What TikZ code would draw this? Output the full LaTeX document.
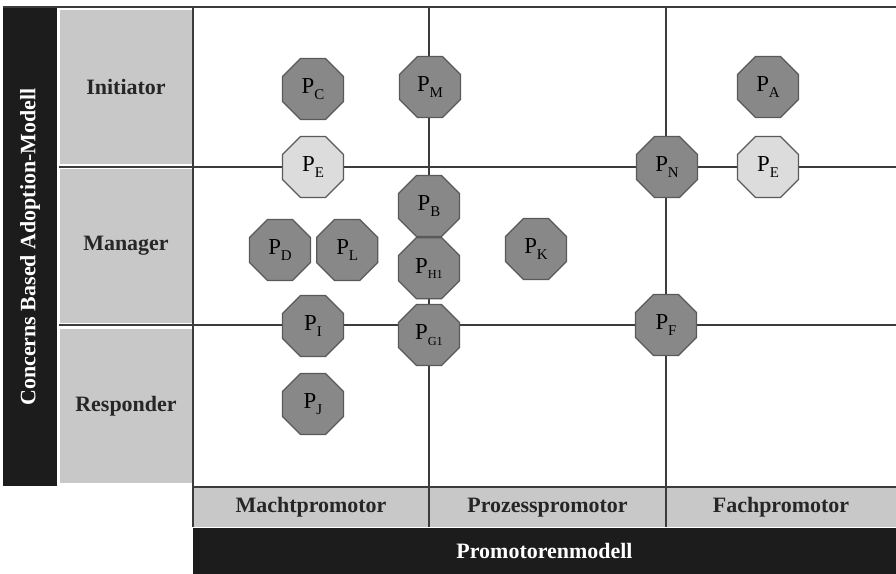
\documentclass[tikz,border=0pt]{standalone}
\usepackage{fontspec}
\setmainfont{Liberation Serif}
\usetikzlibrary{shapes.geometric,positioning}
\definecolor{barblack}{HTML}{1C1C1C}
\definecolor{labelgray}{HTML}{C8C8C8}
\definecolor{octdark}{HTML}{888888}
\definecolor{octlight}{HTML}{DCDCDC}
\definecolor{gridline}{HTML}{3C3C3C}
\newcommand{\Pn}[1]{P\raisebox{-0.5ex}{\fontsize{8.5}{9}\selectfont #1}}

\begin{document}
\begin{tikzpicture}[
    x=0.02cm, y=-0.02cm,
    node distance=0pt,
    lab/.style={font=\bfseries\fontsize{12.5}{14}\selectfont, text=black!85},
    rowlabel/.style={lab, fill=labelgray, draw=white, line width=1pt, minimum width=2.66cm, minimum height=3.12cm},
    collabel/.style={lab, fill=labelgray, minimum height=0.78cm, inner sep=0pt},
    bar/.style={fill=barblack, text=white, inner sep=0pt, font=\bfseries\fontsize{12.5}{14}\selectfont},
    oct/.style={regular polygon, regular polygon sides=8, minimum size=1.32cm, inner sep=0pt, draw=black!65, line width=0.7pt, fill=octdark, font=\fontsize{13}{15}\selectfont},
    octl/.style={oct, fill=octlight},
    grid/.style={draw=gridline, line width=0.9pt}
]
\useasboundingbox (0,0) rectangle (896,574);

% Side and bottom bars
\node[bar, rotate=90, minimum width=9.58cm, minimum height=1.08cm] (cbam) at (30,247) {Concerns Based Adoption-Modell};
\node[bar, minimum width=14.06cm, minimum height=0.92cm] (promo) at (544.5,551) {Promotorenmodell};

% Row labels
\node[rowlabel] (init) at (126,87) {Initiator};
\node[rowlabel] (mgr) at (126,246) {Manager};
\node[rowlabel] (resp) at (126,406) {Responder};

% Column labels
\node[collabel, minimum width=4.72cm] (macht) at (311,507.5) {Machtpromotor};
\node[collabel, minimum width=4.74cm] (prozess) at (547.5,507.5) {Prozesspromotor};
\node[collabel, minimum width=4.6cm] (fach) at (781,507.5) {Fachpromotor};

% Grid
\draw[grid] (3,7) -- (896,7);
\draw[grid] (59,167) -- (896,167);
\draw[grid] (59,325) -- (896,325);
\draw[grid] (193,487) -- (896,487);
\draw[grid] (193,7) -- (193,527);
\draw[grid] (429,7) -- (429,527);
\draw[grid] (666,7) -- (666,527);

% Initiator row
\node[oct] (pC) at (313,89) {\Pn{C}};
\node[oct] (pM) at (430,87) {\Pn{M}};
\node[oct] (pA) at (768,87) {\Pn{A}};
\node[octl] (pE) at (313,167) {\Pn{E}};
\node[oct] (pN) at (667,167) {\Pn{N}};
\node[octl] (pE2) at (768,167) {\Pn{E}};

% Manager row
\node[oct] (pB) at (429,206) {\Pn{B}};
\node[oct, below=of pB] (pH) {\Pn{\fontsize{7}{8}\selectfont H1}};
\node[oct] (pD) at (280,250) {\Pn{D}};
\node[oct, right=0.1cm of pD] (pL) {\Pn{L}};
\node[oct] (pK) at (536,249) {\Pn{K}};

% Responder row
\node[oct] (pI) at (313,326) {\Pn{I}};
\node[oct] (pG) at (429,335) {\Pn{\fontsize{7}{8}\selectfont G1}};
\node[oct] (pF) at (666,325) {\Pn{F}};
\node[oct] (pJ) at (313,404) {\Pn{J}};
\end{tikzpicture}
\end{document}
